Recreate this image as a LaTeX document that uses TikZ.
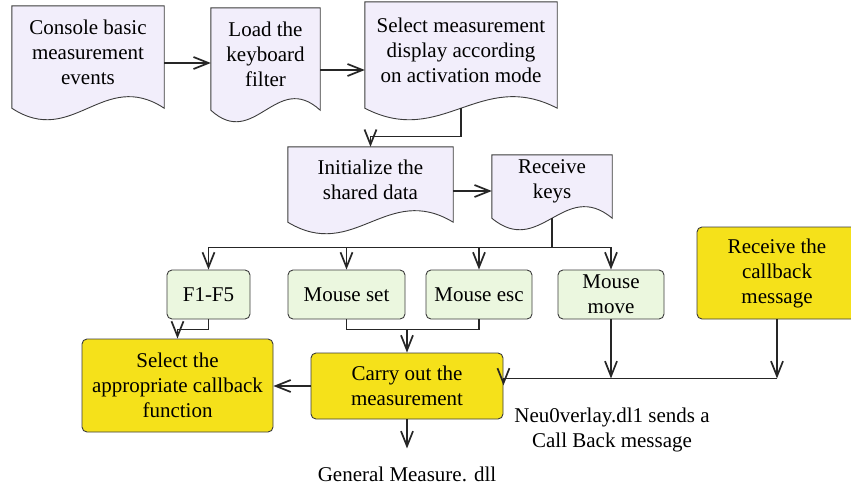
\documentclass[tikz,border=0pt]{standalone}
\usepackage{fontspec}
\setmainfont{Liberation Serif}
\usetikzlibrary{calc,arrows.meta,backgrounds}
\definecolor{docfill}{HTML}{F2EEFB}
\definecolor{keyfill}{HTML}{EBF7DF}
\definecolor{cbfill}{HTML}{F5E11A}
\definecolor{edge}{HTML}{3C3C3C}
\tikzset{
  txt/.style={font=\fontsize{21}{25}\selectfont, align=center, inner sep=0pt},
  docbox/.style={txt},
  docshape/.style={draw=edge, fill=docfill, line width=0.9pt},
  keybox/.style={txt, draw=edge, fill=keyfill, rounded corners=5pt, line width=0.9pt},
  cbbox/.style={txt, draw=edge, fill=cbfill, rounded corners=5pt, line width=0.9pt},
  line/.style={line width=1.1pt, black!85},
  arr/.style={line, -{Straight Barb[length=15pt,width=12pt,line width=1.7pt]}},
}
% wavy document outline behind a node
\newcommand{\docshape}[1]{%
  \path[docshape] ($(#1.south west)+(0,10)$) -- (#1.north west) -- (#1.north east)
    -- ($(#1.south east)+(0,10)$)
    .. controls ($(#1.south west)!0.6!(#1.south east)+(0,-30)$)
    and ($(#1.south west)!0.4!(#1.south east)+(0,50)$) .. ($(#1.south west)+(0,10)$) -- cycle;}

\begin{document}
\begin{tikzpicture}[x=1pt,y=-1pt]
  \useasboundingbox (0,0) rectangle (851,490);
  % document steps
  \node[docbox, minimum width=152pt, minimum height=92pt] (con) at (88,52) {Console basic\\measurement\\events};
  \node[docbox, minimum width=109pt, minimum height=92pt] (load) at (265.5,54) {Load the\\keyboard\\filter};
  \node[docbox, minimum width=192pt, minimum height=96pt] (sel) at (461,50) {Select measurement\\display according\\on activation mode};
  \node[docbox, minimum width=165pt, minimum height=65pt] (init) at (370.5,179.5) {Initialize the\\shared data};
  \node[docbox, minimum width=120pt, minimum height=53pt] (recv) at (552,181.5) {Receive\\keys};
  \begin{scope}[on background layer]
    \docshape{con} \docshape{load} \docshape{sel} \docshape{init} \docshape{recv}
  \end{scope}
  % keys
  \node[keybox, minimum width=83pt, minimum height=49pt] (f15) at (208.5,294.5) {F1-F5};
  \node[keybox, minimum width=117pt, minimum height=49pt] (mset) at (346.5,294.5) {Mouse set};
  \node[keybox, minimum width=106pt, minimum height=49pt] (mesc) at (479,294.5) {Mouse esc};
  \node[keybox, minimum width=106pt, minimum height=49pt] (mmove) at (611,294.5) {Mouse\\move};
  % callbacks
  \node[cbbox, minimum width=160pt, minimum height=92pt] (cbmsg) at (777,273) {Receive the\\callback\\message};
  \node[cbbox, minimum width=191pt, minimum height=93pt] (selcb) at (177.5,385.5) {Select the\\appropriate callback\\function};
  \node[cbbox, minimum width=192pt, minimum height=66pt] (carry) at (407,386) {Carry out the\\measurement};
  \node[txt] (gm) at (407,474) {General Measure. dll};
  \node[txt] (neu) at (612,430) {Neu0verlay.dl1 sends a\\Call Back message};

  \draw[arr] ([yshift=-11pt]con.east) -- ([yshift=-11pt]con.east -| load.west);
  \draw[arr] ([yshift=-16pt]load.east) -- ([yshift=-16pt]load.east -| sel.west);
  \draw[arr] ([yshift=-10pt]sel.south) -- ++(0,28) -| (init.north);
  \draw[arr] ([yshift=-11.5pt]init.east) -- ([yshift=-11.5pt]init.east -| recv.west);
  \draw[line] ([yshift=-10pt]recv.south) -- ++(0,29) coordinate (bus);
  \draw[arr] (bus) -| (f15.north);
  \draw[arr] (bus) -| (mset.north);
  \draw[arr] (bus) -| (mesc.north);
  \draw[arr] (bus) -| (mmove.north);
  \draw[arr] (f15.south) -- ++(0,10) -| (selcb.north);
  \draw[line] (mset.south) -- ++(0,10) coordinate (join) -| (mesc.south);
  \draw[arr] (join -| carry.north) -- (carry.north);
  \draw[arr] (carry.west) -- (carry.west -| selcb.east);
  \draw[arr] (carry.south) -- ++(0,29) coordinate (gmtip);
  \draw[arr] (mmove.south) -- ++(0,59);
  \draw[arr] (cbmsg.south) -- ++(0,59) coordinate (cbend);
  \draw[arr] (cbend) -- (cbend -| carry.east) -- ++(0,7);
\end{tikzpicture}
\end{document}
